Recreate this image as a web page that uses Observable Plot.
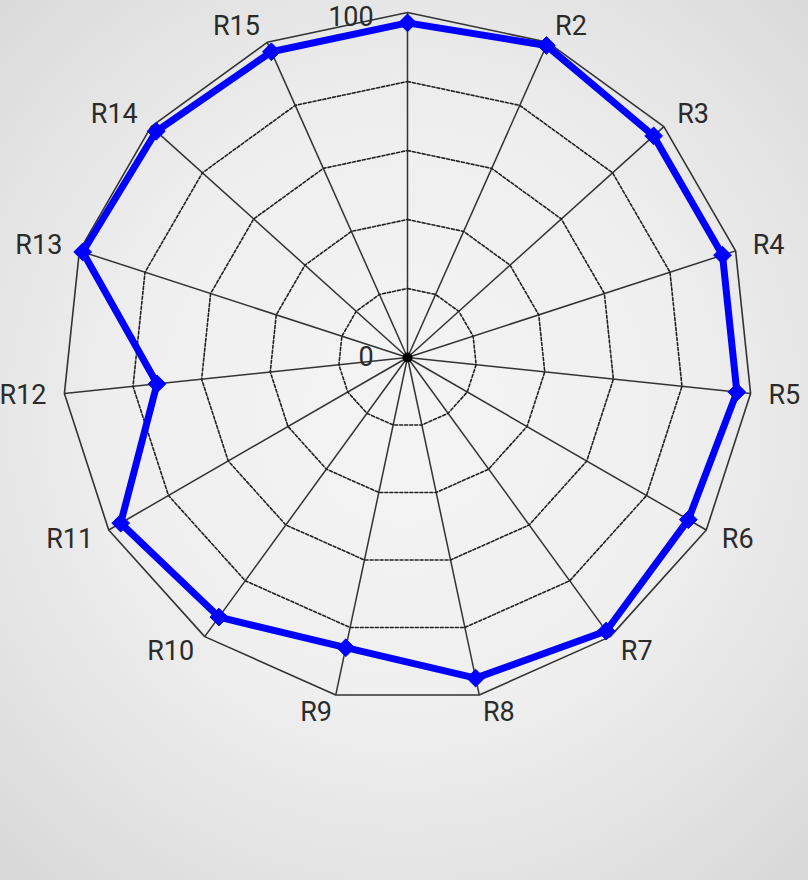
<!DOCTYPE html>
<html>
<head>
<meta charset="utf-8">
<script src="https://cdn.jsdelivr.net/npm/d3@7"></script>
<script src="https://cdn.jsdelivr.net/npm/@observablehq/plot@0.6"></script>
<style>
  html, body { margin: 0; padding: 0; }
  body {
    width: 808px; height: 880px; overflow: hidden;
    background: radial-gradient(ellipse 620px 640px at 405px 420px, #f4f4f4 0%, #efefef 45%, #e2e2e2 75%, #d6d6d6 100%);
  }
  #chart svg { display: block; }
</style>
</head>
<body>
<div id="chart"></div>
<script>
const categories = ["R1","R2","R3","R4","R5","R6","R7","R8","R9","R10","R11","R12","R13","R14","R15"];
const values = [97, 99, 96, 96, 96, 94, 98, 95, 86, 93, 96, 73, 99, 98, 97];
const ringLevels = [20, 40, 60, 80, 100];
const tickLabels = [{v: 0, label: "0"}, {v: 100, label: "100"}];
const hiddenLabels = ["R1"];

const n = categories.length;
const ang = i => (2 * Math.PI * i) / n;
const px = (i, r) => r * Math.sin(ang(i));
const py = (i, r) => r * Math.cos(ang(i));

const W = 808, H = 880, CX = 407, CY = 357, R = 345;
const k = R / 100;

const rings = ringLevels.flatMap(level => categories.map((c, i) => ({level, i})));
const spokes = categories.map((c, i) => ({i}));
const series = categories.map((c, i) => ({c, i, v: values[i]}));
const labR = 105.2;
const labels = categories.map((c, i) => ({c, i})).filter(d => !hiddenLabels.includes(d.c));
const rightLabels = labels.filter(d => px(d.i, 1) > 0.01);
const leftLabels = labels.filter(d => px(d.i, 1) < -0.01);

const font = "Roboto, 'Liberation Sans', sans-serif";
const txt = {fontFamily: font, fontSize: 27, fill: "#2b2b2b"};

const chart = Plot.plot({
  width: W, height: H,
  margin: 0,
  style: {background: "transparent", overflow: "visible"},
  x: {domain: [-CX / k, (W - CX) / k], range: [0, W], axis: null},
  y: {domain: [-(H - CY) / k, CY / k], range: [H, 0], axis: null},
  marks: [
    Plot.link(spokes, {x1: 0, y1: 0, x2: d => px(d.i, 100), y2: d => py(d.i, 100), stroke: "#333", strokeWidth: 1.5}),
    Plot.line(rings.filter(d => d.level < 100), {
      x: d => px(d.i, d.level), y: d => py(d.i, d.level), z: "level",
      curve: "linear-closed", stroke: "#222", strokeWidth: 1.6, strokeDasharray: "3,2"
    }),
    Plot.line(rings.filter(d => d.level === 100), {
      x: d => px(d.i, d.level), y: d => py(d.i, d.level), z: "level",
      curve: "linear-closed", stroke: "#333", strokeWidth: 1.6
    }),
    Plot.dot([{i: 0}], {x: 0, y: 0, r: 5, fill: "#000"}),
    Plot.line(series, {
      x: d => px(d.i, d.v), y: d => py(d.i, d.v),
      curve: "linear-closed", stroke: "#0000ff", strokeWidth: 7, strokeLinejoin: "round"
    }),
    Plot.dot(series, {
      x: d => px(d.i, d.v), y: d => py(d.i, d.v),
      symbol: "diamond2", r: 8, fill: "#0000ff", stroke: "#0000ff", strokeWidth: 1
    }),
    Plot.text(rightLabels, {x: d => px(d.i, labR), y: d => py(d.i, labR), text: "c", textAnchor: "start", ...txt}),
    Plot.text(leftLabels, {x: d => px(d.i, labR), y: d => py(d.i, labR), text: "c", textAnchor: "end", ...txt}),
    Plot.text(tickLabels.filter(d => d.v === 0), {x: -9.8, y: "v", text: "label", textAnchor: "end", dy: 0, ...txt}),
    Plot.text(tickLabels.filter(d => d.v !== 0), {x: -9.8, y: "v", text: "label", textAnchor: "end", dy: 5, ...txt})
  ]
});
document.getElementById("chart").appendChild(chart);
</script>
</body>
</html>
